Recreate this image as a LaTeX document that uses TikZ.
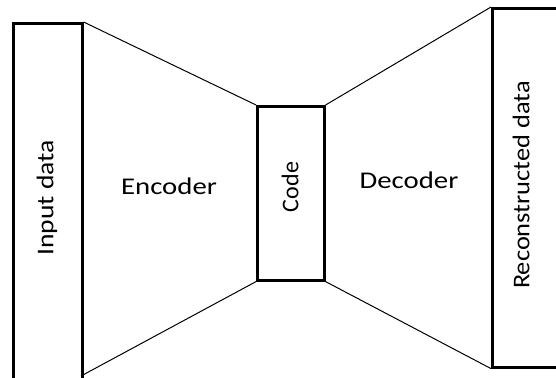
\documentclass[tikz,border=0pt]{standalone}
\usepackage{fontspec}
\setmainfont{Carlito}
\usepackage{graphicx}

\tikzset{
	block/.style={draw, line width=2.6pt, rectangle, inner sep=0pt},
	funnel/.style={line width=1pt},
	label text/.style={font=\fontsize{24}{28}\selectfont, inner sep=0pt}}
\tikzset{every picture/.style={line width=0.75pt}}

\begin{document}
\begin{tikzpicture}[x=1pt,y=1pt,yscale=-1,xscale=1]
	\useasboundingbox (0,0) rectangle (556,377);

	%Shape: Rectangle [id:input]
	\node [block, anchor=north west, minimum width=69pt, minimum height=380pt] (input) at (12,22) {};
	%Shape: Rectangle [id:code]
	\node [block, anchor=north west, minimum width=67pt, minimum height=174pt] (code) at (256,105) {};
	%Shape: Rectangle [id:output]
	\node [block, anchor=north west, minimum width=80pt, minimum height=359pt] (output) at (491,7) {};

	%Straight Lines [id:enc]
	\draw [funnel] (input.north east) -- (code.north west) ;
	\draw [funnel] (81,376) coordinate (encbot) -- (code.south west) ;
	%Straight Lines [id:dec]
	\draw [funnel] (code.north east) -- (output.north west) ;
	\draw [funnel] (code.south east) -- (output.south west) ;

	% Text Node
	\node [label text, rotate=90] (inputlbl) at (47,198) {\scalebox{1.15}[1]{Input data}};
	% Text Node
	\node [label text] (enclbl) at (169,186) {\scalebox{1.2}[1]{Encoder}};
	% Text Node
	\node [label text, rotate=90] (codelbl) at (290,187) {Code};
	% Text Node
	\node [label text] (declbl) at (409,180) {\scalebox{1.2}[1]{Decoder}};
	% Text Node
	\node [label text, rotate=90] (outputlbl) at (521,185) {\scalebox{1.1}[1]{Reconstructed data}};

\end{tikzpicture}
\end{document}
